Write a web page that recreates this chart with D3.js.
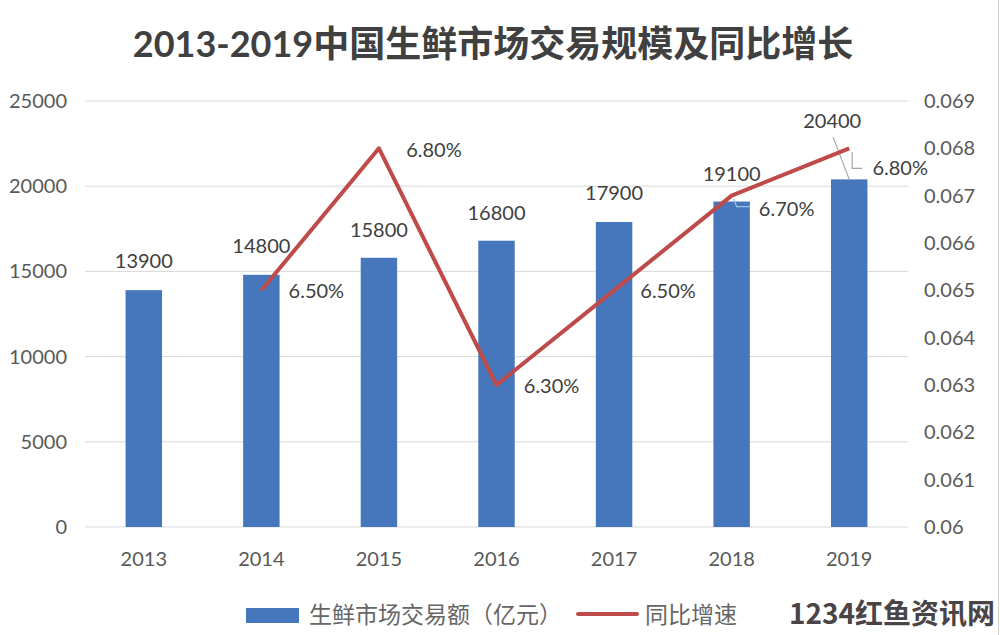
<!DOCTYPE html>
<html><head><meta charset="utf-8">
<script src="https://cdn.jsdelivr.net/npm/d3@7"></script>
<style>
html,body{margin:0;padding:0;background:#fff;}
svg{display:block;font-family:"Lato","Noto Sans CJK SC",sans-serif;}
</style></head>
<body><svg id="c" width="1000" height="635"></svg>
<script>
const title = "2013-2019中国生鲜市场交易规模及同比增长";
const years = ["2013","2014","2015","2016","2017","2018","2019"];
const volume = [13900,14800,15800,16800,17900,19100,20400];
const growthYears = ["2014","2015","2016","2017","2018","2019"];
const growth = [0.065,0.068,0.063,0.065,0.067,0.068];
const growthLabels = ["6.50%","6.80%","6.30%","6.50%","6.70%","6.80%"];
const leftTicks = [0,5000,10000,15000,20000,25000];
const rightTicks = [0.06,0.061,0.062,0.063,0.064,0.065,0.066,0.067,0.068,0.069];
const legendBar = "生鲜市场交易额（亿元）";
const legendLine = "同比增速";
const watermark = "1234红鱼资讯网";

const svg = d3.select("#c");
const m = {l:85, r:908, t:101, b:527};
const x = d3.scaleBand().domain(years).range([m.l, m.r]).paddingInner(0.69).paddingOuter(0.345);
const y = d3.scaleLinear().domain([0,25000]).range([m.b, m.t]);
const y2 = d3.scaleLinear().domain([0.06,0.069]).range([m.b, m.t]);
const cx = d => x(d) + x.bandwidth()/2;

// title
svg.append("text").attr("x",493).attr("y",57).attr("text-anchor","middle")
  .attr("font-size",36).attr("font-weight","bold").attr("fill","#404040").text(title);

// gridlines
svg.append("g").selectAll("line").data(leftTicks).join("line")
  .attr("x1",m.l).attr("x2",m.r).attr("y1",d=>y(d)).attr("y2",d=>y(d))
  .attr("stroke","#d9d9d9").attr("stroke-width",1);

// left axis
const la = svg.append("g").attr("transform",`translate(${m.l},0)`)
  .call(d3.axisLeft(y).tickValues(leftTicks).tickSize(0).tickPadding(18).tickFormat(d3.format("d")));
la.select(".domain").remove();
la.selectAll("text").attr("font-size",20).attr("fill","#595959").attr("font-family","Lato, sans-serif");

// right axis
const ra = svg.append("g").attr("transform",`translate(${m.r},0)`)
  .call(d3.axisRight(y2).tickValues(rightTicks).tickSize(0).tickPadding(16).tickFormat(d => d===0.06 ? "0.06" : d3.format(".3f")(d)));
ra.select(".domain").remove();
ra.selectAll("text").attr("font-size",20).attr("fill","#595959").attr("font-family","Lato, sans-serif");

// x axis labels
svg.append("g").selectAll("text").data(years).join("text")
  .attr("x",d=>cx(d)).attr("y",566).attr("text-anchor","middle")
  .attr("font-size",20).attr("fill","#595959").text(d=>d);

// bars
svg.append("g").selectAll("rect").data(volume).join("rect")
  .attr("x",(d,i)=>x(years[i])).attr("width",x.bandwidth())
  .attr("y",d=>y(d)).attr("height",d=>y(0)-y(d)).attr("fill","#4677BC");

// bar labels (baseline offset above bar top, x shift)
const barLabelOffset = [[0,22],[0,22],[0,21],[0,21],[0,22],[0,21],[-17,51]];
svg.append("g").selectAll("text").data(volume).join("text")
  .attr("x",(d,i)=>cx(years[i])+barLabelOffset[i][0]).attr("y",(d,i)=>y(d)-barLabelOffset[i][1])
  .attr("text-anchor","middle").attr("font-size",20).attr("fill","#404040").text(d=>d);

// leader line for 2019 bar label
const g19 = cx("2019");
svg.append("line").attr("x1",g19-16).attr("y1",y(20400)-42).attr("x2",g19).attr("y2",y(20400))
  .attr("stroke","#a6a6a6").attr("stroke-width",1.2);

// line
const line = d3.line().x((d,i)=>cx(growthYears[i])).y(d=>y2(d));
svg.append("path").datum(growth).attr("d",line).attr("fill","none")
  .attr("stroke","#BE4B4A").attr("stroke-width",4).attr("stroke-linejoin","round");

// growth label leader lines
const p18x = cx("2018"), p18y = y2(0.067);
svg.append("path").attr("d",`M${p18x+2},${p18y+3} L${p18x+5},${p18y+11} L${p18x+18},${p18y+11}`)
  .attr("fill","none").attr("stroke","#9dc3e6").attr("stroke-width",1.2);
const p19x = cx("2019"), p19y = y2(0.068);
svg.append("path").attr("d",`M${p19x+3},${p19y+4} L${p19x+3},${p19y+20} L${p19x+13},${p19y+20}`)
  .attr("fill","none").attr("stroke","#a6a6a6").attr("stroke-width",1.2);

// growth labels
const glOffset = [[55,8],[55,9],[55,8],[54,8],[55,20],[51,27]];
svg.append("g").selectAll("text").data(growth).join("text")
  .attr("x",(d,i)=>cx(growthYears[i])+glOffset[i][0]).attr("y",(d,i)=>y2(d)+glOffset[i][1])
  .attr("text-anchor","middle").attr("font-size",20).attr("fill","#404040").text((d,i)=>growthLabels[i]);

// legend
svg.append("rect").attr("x",246).attr("y",608).attr("width",53).attr("height",15).attr("fill","#4677BC");
svg.append("text").attr("x",309).attr("y",623).attr("font-size",23).attr("fill","#666666")
  .attr("font-family","Noto Sans CJK SC").text(legendBar);
svg.append("line").attr("x1",578).attr("x2",637).attr("y1",614).attr("y2",614)
  .attr("stroke","#BE4B4A").attr("stroke-width",4).attr("stroke-linecap","round");
svg.append("text").attr("x",645).attr("y",623).attr("font-size",23).attr("fill","#666666")
  .attr("font-family","Noto Sans CJK SC").text(legendLine);

// watermark
svg.append("text").attr("x",995).attr("y",624).attr("text-anchor","end").attr("font-size",28)
  .attr("font-weight","bold").attr("fill","#4a4446").attr("font-family","Noto Sans CJK SC").text(watermark);

// right border
svg.append("line").attr("x1",998.5).attr("x2",998.5).attr("y1",0).attr("y2",635).attr("stroke","#d0d0d0");
</script></body></html>
